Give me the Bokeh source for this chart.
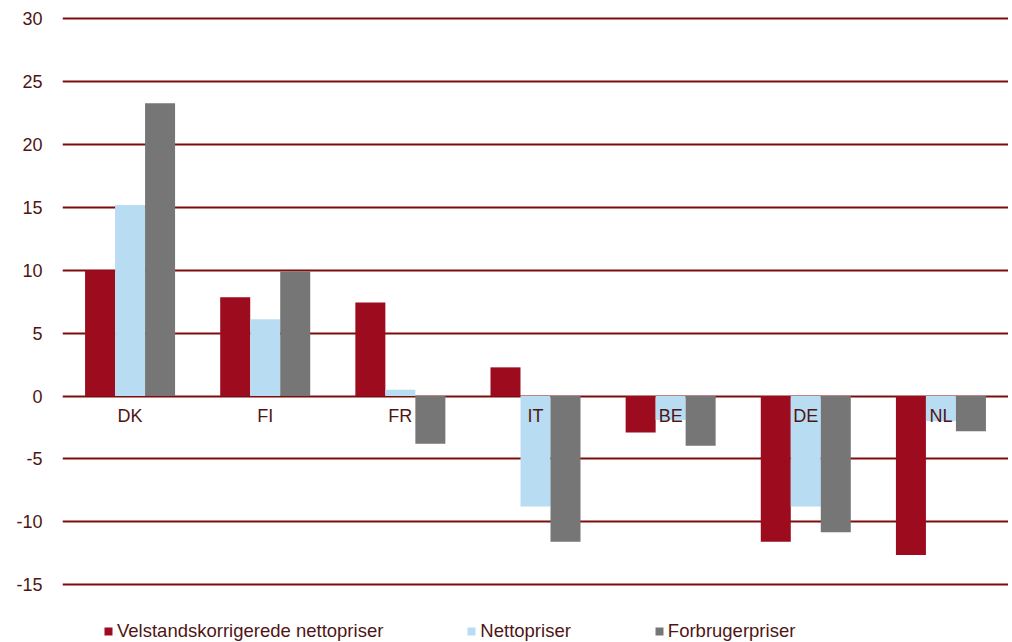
from bokeh.plotting import figure
from bokeh.models import (ColumnDataSource, FactorRange, Range1d, FixedTicker, Legend,
                          LegendItem, NumeralTickFormatter)
from bokeh.transform import dodge
from bokeh.core.properties import value
from bokeh.embed import file_html
from bokeh.resources import INLINE

categories = ["DK", "FI", "FR", "IT", "BE", "DE", "NL"]
velstand = [10.0, 7.85, 7.45, 2.28, -2.9, -11.6, -12.65]
netto = [15.2, 6.1, 0.5, -8.8, -1.9, -8.8, -2.0]
forbruger = [23.3, 9.9, -3.8, -11.6, -3.95, -10.85, -2.8]
series_names = ["Velstandskorrigerede nettopriser", "Nettopriser", "Forbrugerpriser"]
y_ticks = [-15, -10, -5, 0, 5, 10, 15, 20, 25, 30]

RED = "#9c0b1e"
BLUE = "#b8dcf2"
GRAY = "#767676"
TEXT = "#4f1515"
GRID = "#7d0c0c"
FONT = "Liberation Sans"

src = ColumnDataSource(dict(cat=categories, v=velstand, n=netto, f=forbruger,
                            zero=[0] * len(categories)))

p = figure(x_range=FactorRange(*categories, range_padding=0),
           y_range=Range1d(-19.615, 31.472),
           width=1008, height=642, output_backend="svg", toolbar_location=None,
           min_border_left=62, min_border_right=0, min_border_top=0, min_border_bottom=0)
p.outline_line_color = None
p.background_fill_color = "white"
p.border_fill_color = "white"

bw = 0.222
r1 = p.vbar(x=dodge("cat", -bw, range=p.x_range), top="v", bottom=0, width=bw,
            source=src, fill_color=RED, line_color=None)
r2 = p.vbar(x=dodge("cat", 0, range=p.x_range), top="n", bottom=0, width=bw,
            source=src, fill_color=BLUE, line_color=None)
r3 = p.vbar(x=dodge("cat", bw, range=p.x_range), top="f", bottom=0, width=bw,
            source=src, fill_color=GRAY, line_color=None)

p.text(x="cat", y="zero", text="cat", source=src, y_offset=10,
       text_align="center", text_baseline="top", text_color=TEXT,
       text_font=value(FONT), text_font_size="18px")

p.xaxis.visible = False
p.xgrid.grid_line_color = None
p.yaxis.ticker = FixedTicker(ticks=y_ticks)
p.yaxis.formatter = NumeralTickFormatter(format="0")
p.ygrid.ticker = FixedTicker(ticks=y_ticks)
p.ygrid.grid_line_color = GRID
p.ygrid.grid_line_width = 2
p.yaxis.axis_line_color = None
p.yaxis.major_tick_line_color = None
p.yaxis.minor_tick_line_color = None
p.yaxis.major_label_text_font = FONT
p.yaxis.major_label_text_font_size = "18px"
p.yaxis.major_label_text_color = TEXT
p.yaxis.major_label_standoff = 14

legend = Legend(items=[LegendItem(label=series_names[0], renderers=[r1]),
                       LegendItem(label=series_names[1], renderers=[r2]),
                       LegendItem(label=series_names[2], renderers=[r3])],
                location=(41, 0), orientation="horizontal", spacing=83,
                glyph_width=10, glyph_height=10, label_standoff=4,
                padding=0, margin=0, border_line_color=None,
                background_fill_alpha=0,
                label_text_font=FONT, label_text_font_size="18.5px",
                label_text_color=TEXT)
p.add_layout(legend, "center")

open("out.html", "w").write(file_html(p, INLINE))
